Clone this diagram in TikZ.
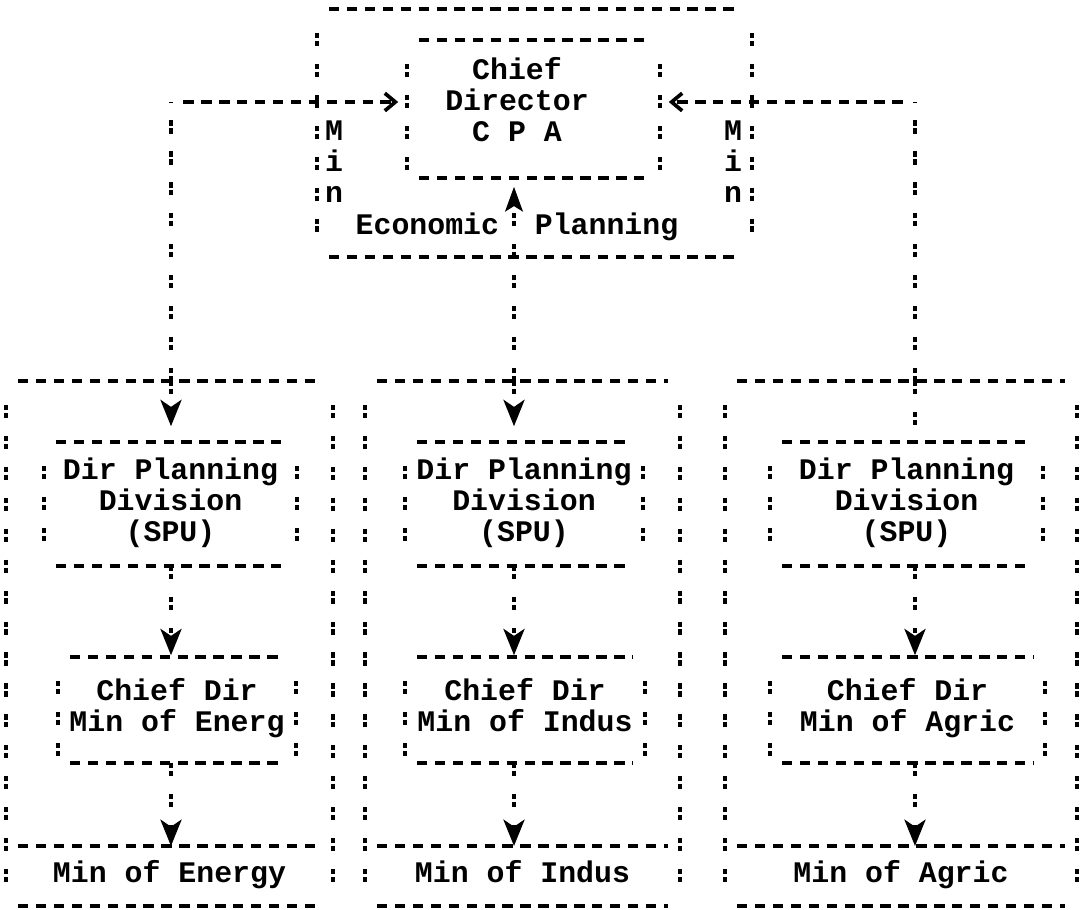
\documentclass[tikz,border=0pt]{standalone}
\usepackage{fontspec}
\setmainfont{Liberation Mono}
\usetikzlibrary{arrows.meta}
\tikzstyle{box} = [rectangle, inner sep=0pt, outer sep=0pt]
\tikzstyle{hdash} = [line width=2.1pt, dash pattern=on 5.9pt off 4.3pt]
\tikzstyle{vcolon} = [line width=2.1pt, dash pattern=on 3pt off 1.5pt on 3pt off 10.1pt]
\tikzstyle{down} = [vcolon, -{Stealth[length=15pt, width=12pt, inset=4pt]}]
\tikzstyle{up} = [vcolon, -{Stealth[length=14pt, width=10pt, inset=3pt]}]
\tikzstyle{side} = [hdash, -{Straight Barb[length=6pt, width=10pt]}]

% dashes on top and bottom, colons on the sides
\newcommand{\asciibox}[2][24]{%
    \draw[hdash] ([shift={(12,0)}]#2.north west) -- ([shift={(-12,0)}]#2.north east);
    \draw[hdash] ([shift={(12,0)}]#2.south west) -- ([shift={(-12,0)}]#2.south east);
    \draw[vcolon] ([shift={(0,24)}]#2.north west) -- ([shift={(0,-#1)}]#2.south west);
    \draw[vcolon] ([shift={(0,24)}]#2.north east) -- ([shift={(0,-#1)}]#2.south east);
}

\begin{document}
\begin{tikzpicture}[
    x=0.02cm, y=-0.02cm,
    every node/.style={font=\fontsize{17}{17.6}\selectfont\bfseries, align=center, inner sep=0pt, outer sep=0pt}
]
    \useasboundingbox (0,0) rectangle (1080,910);

    % economic planning
    \node[box, minimum width=8.70cm, minimum height=4.96cm] (econ) at (534.5,133) {};
    \node[box, minimum width=5.06cm, minimum height=2.76cm] (cpa) at (533.5,109) {};
    \node (cpatxt) at (517,104) {Chief\\Director\\C P A\strut};
    \node (econtxt) at (517,228) {Economic\ \ Planning\strut};
    \node (minL) at (334,166) {M\\i\\n\strut};
    \node (minR) at (733,166) {M\\i\\n\strut};

    % the three ministries
    \node[box, minimum width=6.54cm, minimum height=10.5cm] (colE) at (169.5,643.5) {};
    \node[box, minimum width=6.30cm, minimum height=10.5cm] (colI) at (522.5,643.5) {};
    \node[box, minimum width=7.04cm, minimum height=10.5cm] (colA) at (901,643.5) {};

    \node[box, minimum width=5.06cm, minimum height=2.48cm] (spuE) at (170.5,504) {Dir Planning\\Division\\(SPU)\strut};
    \node[box, minimum width=4.76cm, minimum height=2.48cm] (spuI) at (524,504) {Dir Planning\\Division\\(SPU)\strut};
    \node[box, minimum width=5.46cm, minimum height=2.48cm] (spuA) at (906.5,504) {Dir Planning\\Division\\(SPU)\strut};

    \node[box, minimum width=4.76cm, minimum height=2.12cm] (cdE) at (177,710) {Chief Dir\\Min of Energ\strut};
    \node[box, minimum width=4.80cm, minimum height=2.12cm] (cdI) at (525,710) {Chief Dir\\Min of Indus\strut};
    \node[box, minimum width=5.50cm, minimum height=2.12cm] (cdA) at (907.5,710) {Chief Dir\\Min of Agric\strut};

    \node[box, minimum width=6.54cm, minimum height=1.2cm] (minE) at (169.5,876) {Min of Energy\strut};
    \node[box, minimum width=6.30cm, minimum height=1.2cm] (minI) at (522.5,876) {Min of Indus\strut};
    \node[box, minimum width=7.04cm, minimum height=1.2cm] (minA) at (901,876) {Min of Agric\strut};

    \foreach \b in {econ, colE, colI, colA, spuE, spuI, spuA} {\asciibox{\b}}
    \foreach \b in {cpa, cdE, cdI, cdA} {\asciibox[7]{\b}}
    \foreach \b in {minE, minI, minA}
        {\draw[hdash] ([shift={(12,0)}]\b.north west) -- ([shift={(-12,0)}]\b.north east);}

    \coordinate (jE) at (171,381);
    \coordinate (jI) at (514,381);
    \coordinate (jA) at (915,381);

    % down the columns
    \draw[down, shorten >=9pt] (jE) -- (jE |- spuE.north);
    \draw[down, shorten >=1pt] (jE |- spuE.south) -- (jE |- cdE.north);
    \draw[down] (jE |- cdE.south) -- (jE |- minE.north);
    \draw[down, shorten >=9pt] (jI) -- (jI |- spuI.north);
    \draw[down, shorten >=1pt] (jI |- spuI.south) -- (jI |- cdI.north);
    \draw[down] (jI |- cdI.south) -- (jI |- minI.north);
    \draw[vcolon, shorten >=9pt] (jA) -- (jA |- spuA.north);
    \draw[down, shorten >=1pt] (jA |- spuA.south) -- (jA |- cdA.north);
    \draw[down] (jA |- cdA.south) -- (jA |- minA.north);

    % up to the chief director
    \draw[up, shorten >=5pt] (jI) -- (jI |- cpa.south);
    \coordinate (kE) at (171,102);
    \coordinate (kA) at (915,102);
    \draw[vcolon] (jE) -- (kE);
    \draw[vcolon] (jA) -- (kA);
    \draw[side, shorten <=7pt, shorten >=5pt] (kE) -- (kE -| cpa.west);
    \draw[side, shorten <=7pt, shorten >=5pt] (kA) -- (kA -| cpa.east);
\end{tikzpicture}
\end{document}
